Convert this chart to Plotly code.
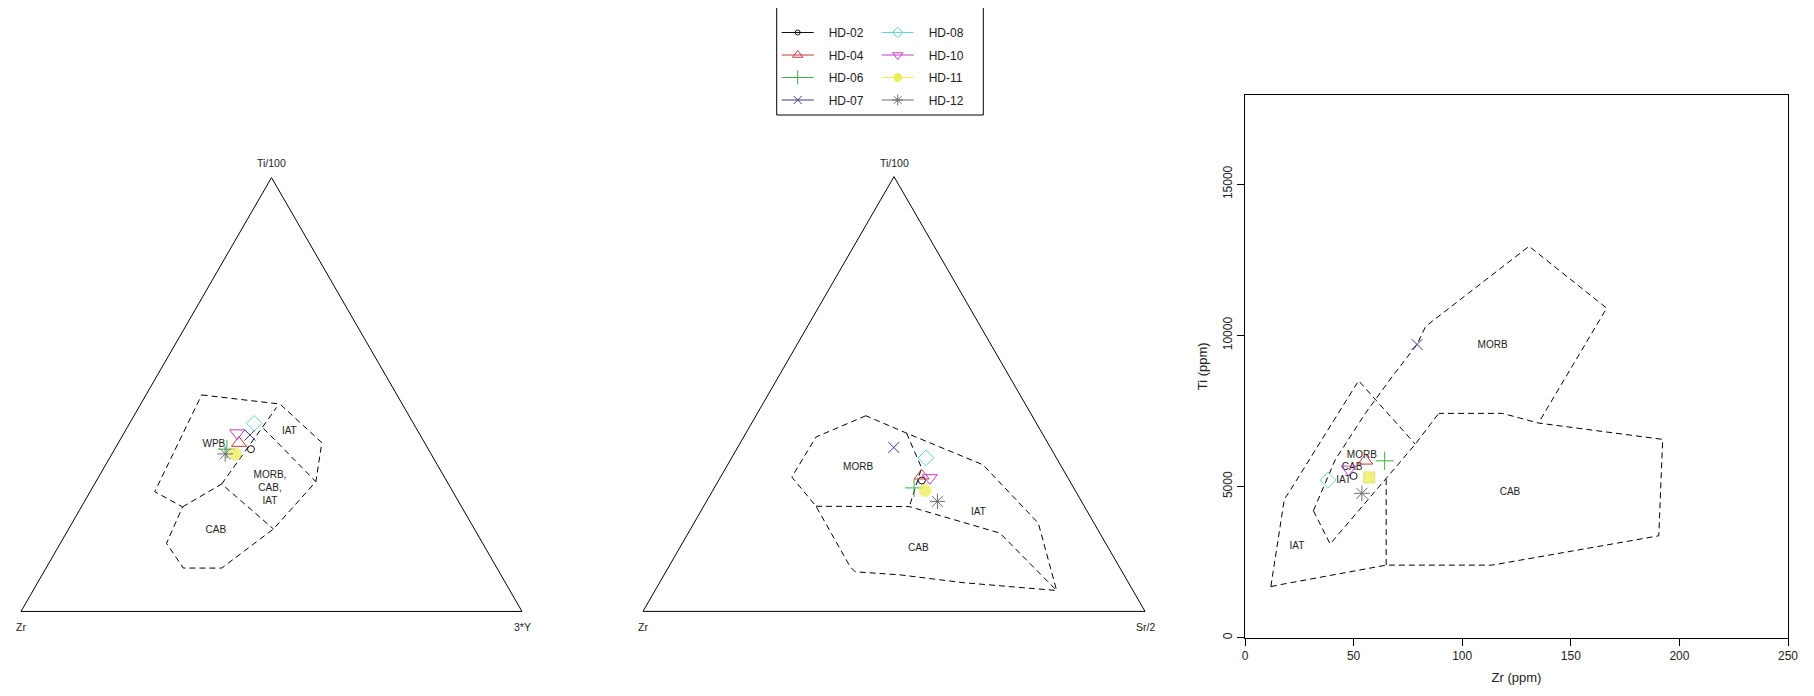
import plotly.graph_objects as go

FONT = "Liberation Sans, Arial, sans-serif"
PAGE_W, PAGE_H = 1814, 696
OFF = 8  # default page margin around the plot div
W, H = PAGE_W - OFF, PAGE_H - OFF

samples = ["HD-02", "HD-04", "HD-06", "HD-07", "HD-08", "HD-10", "HD-11", "HD-12"]
colors = ["#111111", "#C23B3B", "#3DAF45", "#3A3A8C", "#5ED6D6", "#C63CC6", "#EDED55", "#6E6E6E"]
symbols = ["circle-open", "triangle-up-open", "cross-thin-open", "x-thin-open",
           "diamond-open", "triangle-down-open", "circle", "asterisk-open"]
sizes = [7, 13, 13, 11, 12, 13, 12, 13]
legend_sizes = [5, 9, 10, 8, 8, 9, 8, 9]
rect_symbols = ["circle-open", "triangle-up-open", "cross-thin-open", "x-thin-open",
                "diamond-open", "triangle-down-open", "square", "asterisk-open"]

# --- Ti/100 - Zr - 3*Y ternary (percent) ---
tzy_ti = [37.4, 38.8, 37.4, 40.7, 43.4, 41.1, 36.3, 36.3]
tzy_zr = [35.4, 37.1, 40.2, 34.0, 31.8, 36.3, 39.1, 41.1]
tzy_y3 = [27.2, 24.1, 22.4, 25.4, 24.9, 22.6, 24.6, 22.6]

# field boundaries
tzy_outer_ti = [49.9, 47.8, 38.9, 29.9, 19.0, 10.0, 10.0, 15.7, 24.1, 27.6, 49.9]
tzy_outer_zr = [39.0, 24.4, 20.5, 26.2, 40.1, 55.0, 62.6, 63.1, 55.7, 59.5, 39.0]
tzy_outer_y3 = [11.1, 27.8, 40.6, 43.9, 40.9, 35.1, 27.4, 21.2, 20.2, 12.9, 11.1]
tzy_cab_ti = [24.1, 29.4, 19.0]
tzy_cab_zr = [55.7, 45.3, 40.1]
tzy_cab_y3 = [20.2, 25.4, 40.9]
tzy_wpb_ti = [29.4, 47.0]
tzy_wpb_zr = [45.3, 25.5]
tzy_wpb_y3 = [25.4, 27.5]
tzy_iat_ti = [42.2, 29.9]
tzy_iat_zr = [30.5, 26.2]
tzy_iat_y3 = [27.3, 43.9]
tzy_labels = ["WPB", "IAT", "MORB,<br>CAB,<br>IAT", "CAB"]
tzy_lab_ti = [38.4, 41.4, 28.4, 18.6]
tzy_lab_zr = [42.3, 25.7, 36.1, 51.8]
tzy_lab_y3 = [19.3, 32.8, 35.5, 29.6]

# --- Ti/100 - Zr - Sr/2 ternary (percent) ---
tzs_ti = [30.1, 31.2, 28.4, 37.7, 35.3, 30.7, 27.8, 25.3]
tzs_zr = [29.4, 28.9, 31.8, 31.2, 26.0, 27.5, 29.9, 28.7]
tzs_sr = [40.5, 39.9, 39.8, 31.1, 38.7, 41.8, 42.3, 46.0]

tzs_outer_ti = [45.0, 40.1, 30.9, 24.2, 10.3, 9.1, 8.4, 6.6, 4.8, 20.3, 33.7, 41.0, 45.0]
tzs_outer_zr = [33.1, 45.5, 54.9, 53.5, 53.6, 53.2, 44.6, 32.9, 15.2, 11.1, 15.4, 27.0, 33.1]
tzs_outer_sr = [21.9, 14.4, 14.2, 22.4, 36.1, 37.7, 47.0, 60.5, 80.0, 68.6, 50.9, 32.0, 21.9]
tzs_cab_ti = [24.2, 24.1, 18.0, 4.8]
tzs_cab_zr = [53.5, 34.9, 19.9, 15.2]
tzs_cab_sr = [22.4, 41.0, 62.1, 80.0]
tzs_div_ti = [41.0, 33.0, 24.1]
tzs_div_zr = [27.0, 28.0, 34.9]
tzs_div_sr = [32.0, 39.0, 41.0]
tzs_labels = ["MORB", "IAT", "CAB"]
tzs_lab_ti = [33.1, 22.8, 14.5]
tzs_lab_zr = [40.6, 21.8, 37.9]
tzs_lab_sr = [26.3, 55.4, 47.6]

# --- Ti vs Zr (ppm) ---
zr_ppm = [50.0, 55.4, 64.3, 79.2, 38.2, 47.7, 57.2, 53.8]
ti_ppm = [5350, 5850, 5850, 9700, 5215, 5570, 5300, 4775]

tz_a_zr = [11.9, 18.1, 20.0, 52.3, 78.4]
tz_a_ti = [1690, 4580, 4780, 8500, 6400]
tz_b_zr = [11.9, 18.1, 65.0, 113.7, 190.5, 192.3, 135.1, 118.5, 89.2]
tz_b_ti = [1690, 1780, 2400, 2400, 3370, 6560, 7100, 7420, 7420]
tz_c_zr = [31.5, 39.2, 65.0, 78.4, 89.2]
tz_c_ti = [4200, 3100, 5270, 6400, 7420]
tz_d_zr = [31.5, 41.5, 55.4, 67.7, 79.2, 83.1, 86.9, 130.8, 166.5, 135.1]
tz_d_ti = [4200, 5880, 7420, 8630, 9700, 10285, 10506, 12946, 10900, 7100]
tz_e_zr = [65.0, 65.0]
tz_e_ti = [2400, 5270]
tz_labels = ["MORB", "CAB", "IAT", "MORB", "CAB", "IAT"]
tz_lab_zr = [114.0, 122.0, 23.9, 53.8, 49.3, 45.4]
tz_lab_ti = [9650, 4800, 3010, 6040, 5635, 5215]

x_ticks = [0, 50, 100, 150, 200, 250]
y_ticks = [0, 5000, 10000, 15000]

DASH = "6px,4px"
NB = "\u00a0" * 3  # gap between legend line sample and label
fig = go.Figure()


def tern_line(sub, a, b, c):
    fig.add_trace(go.Scatterternary(a=a, b=b, c=c, mode="lines", subplot=sub,
                                    line=dict(color="black", width=1, dash=DASH),
                                    showlegend=False, hoverinfo="skip"))


tern_line("ternary", tzy_outer_ti, tzy_outer_zr, tzy_outer_y3)
tern_line("ternary", tzy_cab_ti, tzy_cab_zr, tzy_cab_y3)
tern_line("ternary", tzy_wpb_ti, tzy_wpb_zr, tzy_wpb_y3)
tern_line("ternary", tzy_iat_ti, tzy_iat_zr, tzy_iat_y3)
fig.add_trace(go.Scatterternary(a=tzy_lab_ti, b=tzy_lab_zr, c=tzy_lab_y3, mode="text",
                                text=tzy_labels, subplot="ternary", showlegend=False,
                                textfont=dict(size=10, color="#222", family=FONT), hoverinfo="skip"))

tern_line("ternary2", tzs_outer_ti, tzs_outer_zr, tzs_outer_sr)
tern_line("ternary2", tzs_cab_ti, tzs_cab_zr, tzs_cab_sr)
tern_line("ternary2", tzs_div_ti, tzs_div_zr, tzs_div_sr)
fig.add_trace(go.Scatterternary(a=tzs_lab_ti, b=tzs_lab_zr, c=tzs_lab_sr, mode="text",
                                text=tzs_labels, subplot="ternary2", showlegend=False,
                                textfont=dict(size=10, color="#222", family=FONT), hoverinfo="skip"))

for zx, ty in [(tz_a_zr, tz_a_ti), (tz_b_zr, tz_b_ti), (tz_c_zr, tz_c_ti),
               (tz_d_zr, tz_d_ti), (tz_e_zr, tz_e_ti)]:
    fig.add_trace(go.Scatter(x=zx, y=ty, mode="lines", line=dict(color="black", width=1, dash=DASH),
                             showlegend=False, hoverinfo="skip"))
fig.add_trace(go.Scatter(x=tz_lab_zr, y=tz_lab_ti, mode="text", text=tz_labels, showlegend=False,
                         textfont=dict(size=10, color="#222", family=FONT), hoverinfo="skip"))

for i, s in enumerate(samples):
    mk = dict(symbol=symbols[i], size=sizes[i], color=colors[i],
              line=dict(color=colors[i], width=1))
    if s == "HD-11":
        mk["opacity"] = 0.75
    fig.add_trace(go.Scatterternary(a=[tzy_ti[i]], b=[tzy_zr[i]], c=[tzy_y3[i]], mode="markers",
                                    subplot="ternary", marker=mk, name=s, legendgroup=s,
                                    showlegend=False))
    fig.add_trace(go.Scatterternary(a=[tzs_ti[i]], b=[tzs_zr[i]], c=[tzs_sr[i]], mode="markers",
                                    subplot="ternary2", marker=mk, name=s, legendgroup=s,
                                    showlegend=False))
    mk2 = dict(mk)
    mk2["symbol"] = rect_symbols[i]
    if s == "HD-11":
        mk2["size"] = 11
        mk2["line"] = dict(color="#D8D840", width=1)
    fig.add_trace(go.Scatter(x=[zr_ppm[i]], y=[ti_ppm[i]], mode="markers", marker=mk2, name=s,
                             legendgroup=s, showlegend=False))
    # legend entry (line + symbol, as in the original legend)
    fig.add_trace(go.Scatter(x=[None], y=[None], mode="lines+markers", name=NB + s, legendgroup=s,
                             legend="legend" if i < 4 else "legend2",
                             line=dict(color=colors[i], width=1),
                             marker=dict(symbol=symbols[i], size=legend_sizes[i], color=colors[i],
                                         line=dict(color=colors[i], width=1))))

tax = dict(showline=True, linecolor="black", linewidth=1, showgrid=False,
           showticklabels=False, ticks="", title=dict(text=""))


def px(x):
    return (x - OFF) / W


def py(y):
    return 1 - (y - OFF) / H


annots = []
for (txt, x, y) in [("Ti/100", 271.5, 163), ("Zr", 21, 627), ("3*Y", 522, 627),
                    ("Ti/100", 894, 163), ("Zr", 643, 627), ("Sr/2", 1145, 627)]:
    annots.append(dict(text=txt, x=px(x), y=py(y), xref="paper", yref="paper", showarrow=False,
                       xanchor="center", yanchor="middle",
                       font=dict(size=10.5, color="#222", family=FONT)))

leg_common = dict(xanchor="left", yanchor="top", bgcolor="rgba(0,0,0,0)", borderwidth=0,
                  font=dict(size=12, color="#222", family=FONT), traceorder="grouped",
                  tracegroupgap=3.5, itemwidth=32)

fig.update_layout(
    width=W, height=H, margin=dict(l=0, r=0, t=0, b=0),
    paper_bgcolor="white", plot_bgcolor="white",
    font=dict(family=FONT, color="#222"),
    ternary=dict(domain=dict(x=[px(21), px(522)], y=[py(611.5), py(177.5)]), sum=100,
                 bgcolor="white", aaxis=tax, baxis=tax, caxis=tax),
    ternary2=dict(domain=dict(x=[px(643), px(1145)], y=[py(611.5), py(176.5)]), sum=100,
                  bgcolor="white", aaxis=tax, baxis=tax, caxis=tax),
    xaxis=dict(domain=[px(1245), px(1788)], range=[0, 250], tickvals=x_ticks,
               ticks="outside", ticklen=7, tickwidth=1, tickcolor="black", showline=True,
               mirror=True, linecolor="black", linewidth=1, showgrid=False, zeroline=False,
               tickfont=dict(size=12, color="#222"), automargin=False,
               title=dict(text="Zr (ppm)", font=dict(size=13, color="#222"), standoff=10)),
    yaxis=dict(domain=[py(637.7), py(95)], range=[0, 17950], tickvals=y_ticks, tickformat="d",
               tickangle=-90, ticks="outside", ticklen=7, tickwidth=1, tickcolor="black",
               showline=True, mirror=True, linecolor="black", linewidth=1, showgrid=False,
               zeroline=False, tickfont=dict(size=12, color="#222"), automargin=False,
               title=dict(text="Ti (ppm)", font=dict(size=13, color="#222"), standoff=10)),
    legend=dict(x=px(776.7), y=py(18), **leg_common),
    legend2=dict(x=px(876.7), y=py(18), **leg_common),
    annotations=annots,
    shapes=[dict(type="rect", xref="paper", yref="paper", x0=px(776.7), x1=px(983.3),
                 y0=py(115), y1=py(6.5), line=dict(color="black", width=1))],
)

fig.write_html("out.html")
